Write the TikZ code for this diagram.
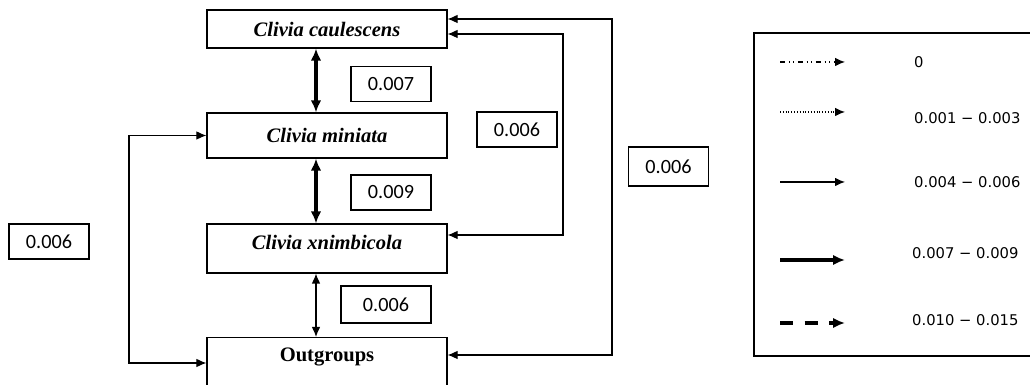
\documentclass[tikz,border=0pt]{standalone}
\usepackage{fontspec}
\setmainfont{Liberation Serif}
\newfontfamily\numfont{Carlito}
\newfontfamily\keyfont{DejaVu Sans}
\usetikzlibrary{arrows.meta}

\begin{document}
\begin{tikzpicture}[x=0.2mm,y=-0.2mm,
  taxon/.style={draw,line width=0.6pt,minimum width=48mm,inner sep=0pt,font=\fontsize{11.7}{14}\selectfont\bfseries\itshape},
  dist/.style={draw,line width=0.6pt,minimum width=16mm,minimum height=7mm,font=\fontsize{11.5}{14}\numfont},
  key/.style={anchor=west,font=\fontsize{8.4}{10}\keyfont},
  thin link/.style={line width=0.6pt,>={Latex[length=2mm,width=1.7mm]}},
  thick link/.style={line width=1.9pt,>={Latex[length=2.4mm,width=2.1mm]}}]
  \useasboundingbox (0,0) rectangle (1030,385);
  \node[taxon,minimum height=7.6mm] (cau) at (327,29) {Clivia caulescens};
  \node[taxon,minimum height=9mm] (min) at (327,135.5) {Clivia miniata};
  \node[taxon,minimum height=9.8mm,text depth=2.6mm] (xni) at (327,248.5) {Clivia xnimbicola};
  \node[taxon,font=\fontsize{11.7}{14}\selectfont\bfseries,anchor=north,text height=4.8mm,text depth=15mm] (out) at (327,337) {Outgroups};
  \node[dist] (d1) at (391,84) {0.007};
  \node[dist] (d2) at (391,192.5) {0.009};
  \node[dist,minimum width=18mm,minimum height=7.4mm] (d3) at (386,304.5) {0.006};
  \node[dist] (d4) at (517,129.5) {0.006};
  \node[dist,minimum height=7.8mm] (d5) at (668.5,166.5) {0.006};
  \node[dist] (d6) at (49,241.5) {0.006};
  \coordinate (mid) at (316,0);
  \coordinate (lft) at (129,0);
  \coordinate (rin) at (563,34);
  \coordinate (rout) at (612,19);
  \draw[thick link,<->] (cau.south -| mid) -- (min.north -| mid);
  \draw[thick link,<->] (min.south -| mid) -- (xni.north -| mid);
  \draw[thin link,<->] (xni.south -| mid) -- (out.north -| mid);
  \draw[thin link,<->] (min.west) -- (min.west -| lft) |- (out.west |- 0,363);
  \draw[thin link,<->] (xni.east |- 0,235) -| (rin) -- (cau.east |- rin);
  \draw[thin link,<->] (out.east |- 0,355) -| (rout) -- (cau.east |- rout);
  \draw[line width=0.6pt] (754,33) rectangle (1040,356);
  \draw[thin link,dash dot dot,->] (780,62) -- (845,62);
  \draw[thin link,densely dotted,->] (780,112) -- (845,112);
  \draw[thin link,->] (780,182) -- (845,182);
  \draw[thick link,->] (780,260) -- (845,260);
  \draw[thick link,dash pattern=on 2.6mm off 2.3mm,->] (780,323) -- (845,323);
  \node[key] (k0) at (908,62) {0};
  \node[key] (k1) at (908,118) {0.001 − 0.003};
  \node[key] (k2) at (908,182) {0.004 − 0.006};
  \node[key] (k3) at (906,253) {0.007 − 0.009};
  \node[key] (k4) at (906,320) {0.010 − 0.015};
\end{tikzpicture}
\end{document}
